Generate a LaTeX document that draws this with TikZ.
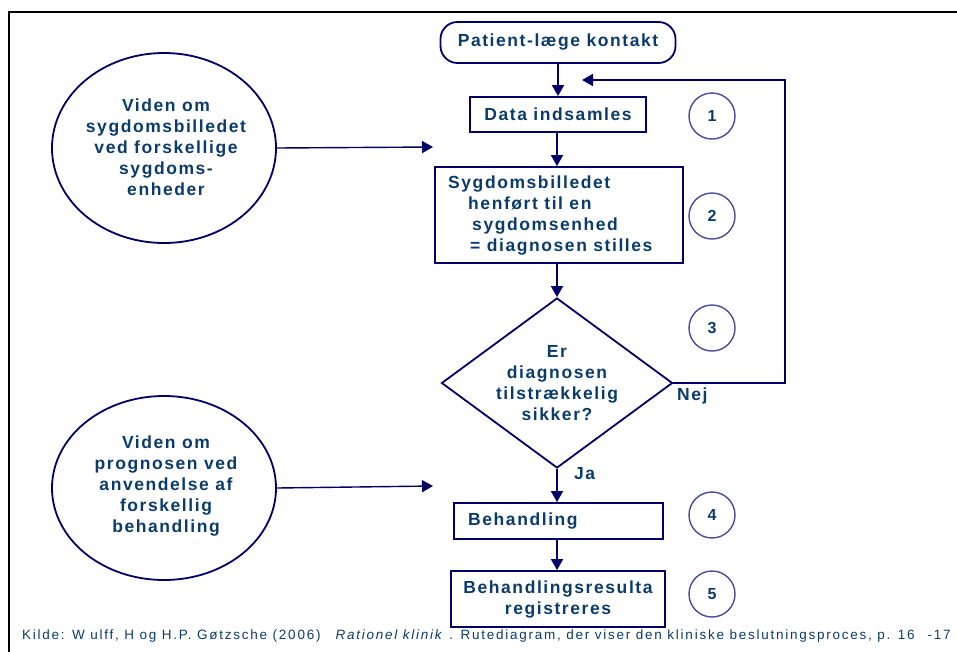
\documentclass[tikz,border=0pt]{standalone}
\usepackage{fontspec}
\setmainfont{Liberation Sans}
\newfontfamily\flowfont{Liberation Sans}[LetterSpace=9]
\newfontfamily\capfont{Liberation Sans}[LetterSpace=13]
\usetikzlibrary{arrows.meta,shapes.geometric}
\definecolor{ink}{HTML}{0B3B6B}
\definecolor{navy}{HTML}{000066}
\definecolor{ringc}{HTML}{4A4A9A}
\begin{document}
\begin{tikzpicture}[x=1pt,y=-1pt,
  txt/.style={text=ink,font=\flowfont\fontsize{17.5}{21}\selectfont\bfseries,inner sep=0pt},
  box/.style={draw=navy,line width=1.8pt,inner sep=0pt},
  terminal/.style={box,rounded corners=17pt,minimum width=235pt,minimum height=41pt},
  bubble/.style={draw=navy,line width=1.8pt,ellipse,inner sep=0pt,minimum width=224pt},
  ring/.style={draw=ringc,line width=1.4pt,circle,minimum size=46pt,inner sep=0pt,
    text=ink,font=\flowfont\fontsize{16}{18}\selectfont\bfseries},
  flow/.style={draw=navy,line width=1.8pt,-{Triangle[length=11pt,width=12pt]}},
  feed/.style={draw=navy,line width=1.4pt,-{Triangle[length=11pt,width=12pt]}}]
\useasboundingbox (0,0) rectangle (957,651);

% frame
\draw[line width=2.2pt,line cap=rect] (9,651) -- (9,12) -- (957,12);

% main column
\node[terminal,txt] (start) at (558,42.5) {Patient-læge kontakt};
\node[box,minimum width=176pt,minimum height=35pt] (data) at (558,114.5) {};
\node[txt] at (data) {Data indsamles};
\node[box,minimum width=248pt,minimum height=96pt] (sygd) at (559,215) {};
\node[txt,anchor=west,align=left] (sygdtxt) at (448,216)
  {Sygdomsbilledet\\\hspace*{20pt}henført til en\\\hspace*{24pt}sygdomsenhed\\\hspace*{22pt}= diagnosen stilles};
\node[draw=navy,line width=1.8pt,diamond,inner sep=0pt,minimum width=231pt,minimum height=170pt] (dec) at (557,383) {};
\node[txt,align=center] at (dec) {Er\\diagnosen\\tilstrækkelig\\sikker?};
\node[box,minimum width=209pt,minimum height=36pt] (beh) at (558.5,521) {};
\node[txt,anchor=west] at (468,521) {Behandling};
\node[box,minimum width=214pt,minimum height=56pt] (res) at (558,599) {};
\node[txt,align=center] at (558,600) {Behandlingsresulta\\registreres};

% step numbers
\node[ring] (n1) at (712,116) {1};
\node[ring] (n2) at (712,216) {2};
\node[ring] (n3) at (712,328) {3};
\node[ring] (n4) at (712,515) {4};
\node[ring] (n5) at (712,594) {5};

% knowledge bubbles
\node[bubble,minimum height=190pt] (k1) at (164,148) {};
\node[txt,align=center] at (166,147) {Viden om\\sygdomsbilledet\\ved forskellige\\sygdoms-\\enheder};
\node[bubble,minimum height=184pt] (k2) at (164,488) {};
\node[txt,align=center] at (166,486) {Viden om\\prognosen ved\\anvendelse af\\forskellig\\behandling};

\coordinate (in1) at (433,147);
\coordinate (in2) at (433,486);
\draw[feed] (k1.east) -- (in1);
\draw[feed] (k2.east) -- (in2);

% flow arrows, kept vertical on the column axis
\draw[flow] (start.south) -- (start.south |- data.north);
\draw[flow] (dec.north |- data.south) -- (dec.north |- sygd.north);
\draw[flow] (dec.north |- sygd.south) -- (dec.north);
\draw[flow] (dec.south) -- (dec.south |- beh.north);
\draw[flow] (dec.south |- beh.south) -- (dec.south |- res.north);

% loop back when the diagnosis is uncertain
\coordinate (back) at (582,80);
\draw[flow] (dec.east) -- (785,383) -- (785,80) -- (back);
\node[txt,anchor=west] (nej) at (677,396) {Nej};
\node[txt,anchor=west] (ja) at (574,474) {Ja};

% source line
\node[anchor=west,inner sep=0pt,text=ink,font=\capfont\fontsize{13.5}{15}\selectfont] (src) at (22,636)
  {Kilde: W ulff, H og H.P. Gøtzsche (2006)\hspace{15pt}\textit{Rationel klinik} . Rutediagram, der viser den kliniske beslutningsproces, p. 16\hspace{13pt}-17};
\end{tikzpicture}
\end{document}
